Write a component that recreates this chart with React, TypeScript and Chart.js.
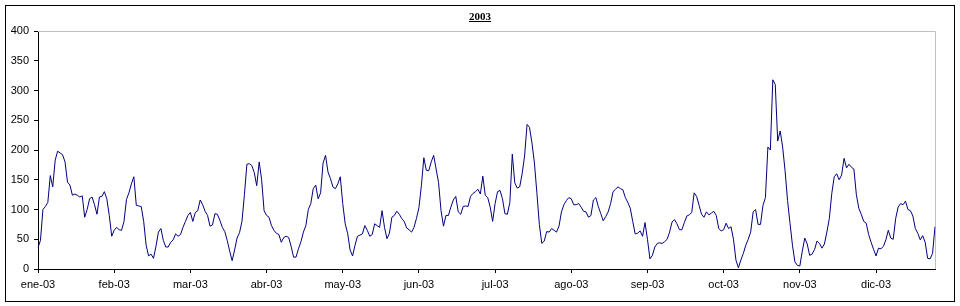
import React, { useEffect, useRef } from "react";
import { Chart, registerables } from "chart.js";

Chart.register(...registerables);

const TITLE = "2003";
const MONTH_LABELS = [
  "ene-03", "feb-03", "mar-03", "abr-03", "may-03", "jun-03",
  "jul-03", "ago-03", "sep-03", "oct-03", "nov-03", "dic-03",
];
const TICK_EVERY = 31;
const Y_MIN = 0;
const Y_MAX = 400;
const Y_STEP = 50;

// daily values, 2003
const VALUES = [
  36, 48, 100, 105, 112, 157, 138, 183, 198, 195,
  192, 180, 146, 141, 124, 126, 124, 121, 123, 87,
  100, 118, 121, 108, 92, 121, 122, 130, 118, 90,
  55, 65, 70, 66, 65, 80, 117, 128, 143, 155,
  107, 106, 105, 80, 40, 22, 25, 18, 38, 62,
  68, 48, 37, 37, 45, 49, 59, 55, 58, 70,
  80, 90, 95, 80, 95, 98, 116, 108, 97, 90,
  72, 74, 93, 92, 82, 70, 63, 48, 30, 14,
  32, 52, 61, 80, 125, 176, 177, 174, 162, 140,
  180, 150, 98, 90, 87, 73, 65, 60, 58, 45,
  53, 55, 53, 38, 20, 20, 34, 46, 62, 73,
  100, 110, 135, 141, 118, 128, 178, 191, 163, 152,
  138, 135, 143, 155, 110, 76, 60, 32, 22, 40,
  55, 57, 59, 73, 65, 55, 58, 76, 73, 70,
  98, 70, 51, 60, 87, 90, 97, 92, 85, 80,
  69, 66, 62, 70, 85, 103, 140, 187, 166, 165,
  180, 191, 168, 145, 98, 72, 90, 90, 104, 116,
  122, 96, 92, 105, 106, 105, 122, 127, 130, 134,
  126, 156, 124, 120, 104, 80, 110, 130, 132, 118,
  93, 92, 112, 193, 145, 136, 138, 160, 190, 243,
  238, 212, 178, 128, 75, 43, 47, 63, 62, 68,
  65, 62, 72, 96, 108, 115, 120, 118, 108, 108,
  110, 104, 97, 96, 87, 90, 116, 120, 105, 93,
  81, 88, 96, 110, 130, 134, 138, 135, 133, 120,
  112, 102, 80, 59, 60, 64, 55, 78, 50, 17,
  23, 37, 43, 44, 43, 46, 50, 62, 79, 83,
  76, 66, 66, 78, 89, 91, 95, 128, 122, 107,
  92, 87, 96, 91, 94, 97, 90, 68, 64, 66,
  77, 68, 71, 50, 15, 2, 15, 26, 40, 50,
  62, 96, 100, 75, 75, 107, 120, 205, 200, 318,
  310, 215, 232, 205, 165, 115, 77, 40, 12, 6,
  5, 30, 52, 42, 23, 25, 33, 47, 43, 35,
  42, 62, 85, 127, 155, 160, 150, 158, 186, 170,
  176, 171, 168, 125, 102, 92, 80, 77, 58, 45,
  33, 22, 35, 34, 38, 49, 65, 52, 50, 85,
  104, 110, 108, 114, 100, 98, 89, 68, 60, 49,
  56, 45, 18, 17, 26, 71,
];

const CATEGORIES = VALUES.map((_, i) => String(i));

const AXIS_FONT = { family: "'Liberation Sans', Arial, sans-serif", size: 11 };

const framePlugin = {
  id: "excelFrame",
  beforeDraw(chart: any) {
    const { ctx, width, height } = chart;
    ctx.save();
    ctx.fillStyle = "#ffffff";
    ctx.fillRect(0, 0, width, height);
    ctx.restore();
  },
  beforeDatasetsDraw(chart: any) {
    const { ctx, chartArea: a } = chart;
    ctx.save();
    ctx.strokeStyle = "#c0c0c0";
    ctx.lineWidth = 1;
    ctx.beginPath();
    ctx.moveTo(a.left, a.top + 0.5);
    ctx.lineTo(a.right + 0.5, a.top + 0.5);
    ctx.lineTo(a.right + 0.5, a.bottom);
    ctx.stroke();
    ctx.restore();
  },
  afterDraw(chart: any) {
    const { ctx } = chart;
    ctx.save();
    ctx.strokeStyle = "#000000";
    ctx.lineWidth = 1;
    ctx.strokeRect(5.5, 5.5, 949, 296);
    ctx.font = "bold 11px 'Liberation Serif', 'Times New Roman', serif";
    ctx.fillStyle = "#000000";
    ctx.textAlign = "center";
    ctx.textBaseline = "alphabetic";
    const cx = 480;
    ctx.fillText(TITLE, cx, 19.5);
    const w = ctx.measureText(TITLE).width;
    ctx.fillRect(Math.round(cx - w / 2), 21, Math.round(w), 1);
    ctx.restore();
  },
};

export default function App() {
  const canvasRef = useRef<HTMLCanvasElement | null>(null);

  useEffect(() => {
    if (!canvasRef.current) return;
    const chart = new Chart(canvasRef.current, {
      type: "line",
      data: {
        labels: CATEGORIES,
        datasets: [
          {
            data: VALUES,
            borderColor: "#000080",
            borderWidth: 1,
            pointRadius: 0,
            pointHoverRadius: 0,
            tension: 0,
            fill: false,
          },
        ],
      },
      options: {
        responsive: false,
        animation: false,
        devicePixelRatio: 1,
        layout: { padding: { top: 31, right: 25, left: 0, bottom: 0 } },
        plugins: {
          legend: { display: false },
          tooltip: { enabled: false },
          title: { display: false },
        },
        scales: {
          x: {
            type: "category",
            offset: false,
            afterFit: (scale: any) => {
              scale.height = 37;
            },
            grid: {
              display: true,
              drawOnChartArea: false,
              drawTicks: true,
              tickLength: 4,
              color: "#000000",
            },
            border: { display: true, color: "#000000", width: 1 },
            ticks: {
              autoSkip: false,
              maxRotation: 0,
              minRotation: 0,
              padding: 5,
              color: "#000000",
              font: AXIS_FONT,
              callback: (_v: any, i: number) =>
                i % TICK_EVERY === 0 ? MONTH_LABELS[i / TICK_EVERY] : null,
            },
          },
          y: {
            min: Y_MIN,
            max: Y_MAX,
            afterFit: (scale: any) => {
              scale.width = 38;
            },
            grid: {
              display: true,
              drawOnChartArea: false,
              drawTicks: true,
              tickLength: 4,
              color: "#000000",
            },
            border: { display: true, color: "#000000", width: 1 },
            ticks: {
              stepSize: Y_STEP,
              padding: 5,
              color: "#000000",
              font: AXIS_FONT,
            },
          },
        },
      },
      plugins: [framePlugin],
    });
    return () => chart.destroy();
  }, []);

  return (
    <div style={{ position: "absolute", left: 0, top: 0, width: 960, height: 306 }}>
      <canvas ref={canvasRef} width={960} height={306} style={{ display: "block" }} />
    </div>
  );
}
